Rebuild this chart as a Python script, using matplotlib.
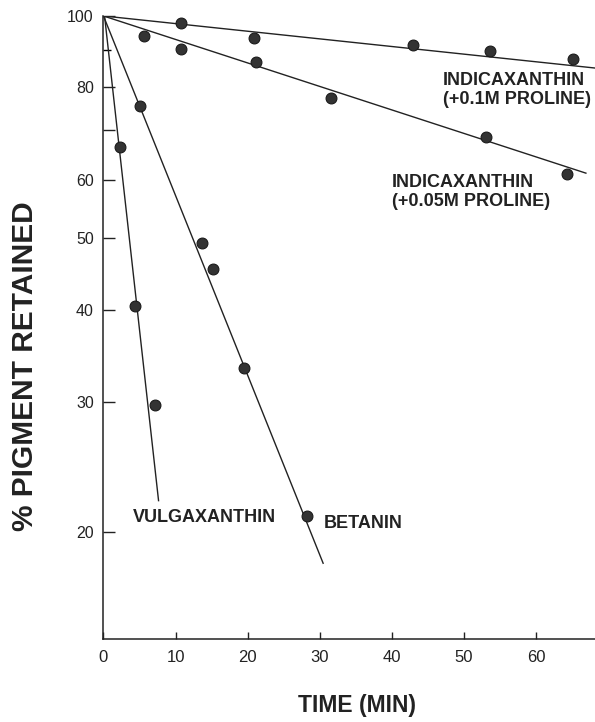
import matplotlib
matplotlib.use("Agg")
import matplotlib.pyplot as plt
from matplotlib.ticker import FixedLocator, FixedFormatter, NullFormatter

plt.rcParams['font.family'] = ['Liberation Sans', 'DejaVu Sans']

# measured points: time (min), % pigment retained
indica_01_t = [10.75, 20.9, 42.9, 53.6, 65.1]
indica_01_y = [97.7, 93.3, 91.3, 89.6, 87.4]

indica_005_t = [5.66, 10.75, 21.15, 31.55, 53.05, 64.25]
indica_005_y = [93.8, 90.2, 86.6, 77.5, 68.6, 61.0]

betanin_t = [5.1, 13.6, 15.15, 19.45, 28.2]
betanin_y = [75.5, 49.3, 45.4, 33.3, 21.0]

vulga_t = [2.3, 4.37, 7.14]
vulga_y = [66.5, 40.4, 29.7]

# fitted first-order lines (start, end)
indica_01_fit_t = [0, 68.2]
indica_01_fit_y = [100, 85.0]
indica_005_fit_t = [0, 67.0]
indica_005_fit_y = [100, 61.2]
betanin_fit_t = [0, 30.5]
betanin_fit_y = [100, 18.1]
vulga_fit_t = [0.15, 7.65]
vulga_fit_y = [100, 22.0]

y_ticks = [20, 30, 40, 50, 60, 70, 80, 100]
y_tick_labels = ['20', '30', '40', '50', '60', '', '80', '100']
x_ticks = [0, 10, 20, 30, 40, 50, 60]

ink = '#222222'
dot = '#333333'

fig = plt.figure(figsize=(5.95, 7.22), dpi=100)
ax = fig.add_axes([0.1739, 0.1150, 0.8261, 0.8629])

for t, y in [(indica_01_fit_t, indica_01_fit_y), (indica_005_fit_t, indica_005_fit_y),
             (betanin_fit_t, betanin_fit_y), (vulga_fit_t, vulga_fit_y)]:
    ax.plot(t, y, color=ink, lw=1.0, solid_capstyle='butt', clip_on=True)

for t, y in [(indica_01_t, indica_01_y), (indica_005_t, indica_005_y),
             (betanin_t, betanin_y), (vulga_t, vulga_y)]:
    ax.plot(t, y, 'o', color=dot, markersize=7.8, markeredgecolor='#1a1a1a',
            markeredgewidth=0.8, zorder=3)

ax.set_yscale('log')
ax.set_xlim(0, 68.17)
ax.set_ylim(14.32, 100)

ax.yaxis.set_major_locator(FixedLocator(y_ticks))
ax.yaxis.set_major_formatter(FixedFormatter(y_tick_labels))
ax.yaxis.set_minor_locator(FixedLocator([90]))
ax.yaxis.set_minor_formatter(NullFormatter())
ax.set_xticks(x_ticks)

ax.tick_params(axis='y', which='major', direction='in', length=8.5, width=1.0,
               labelsize=11.5, pad=7, colors=ink)
ax.tick_params(axis='y', which='minor', direction='in', length=5.5, width=1.0)
ax.tick_params(axis='x', which='major', direction='in', length=5, width=1.0,
               labelsize=12, pad=8, colors=ink)
ax.tick_params(axis='x', which='minor', bottom=False)

for side in ['top', 'right']:
    ax.spines[side].set_visible(False)
for side in ['left', 'bottom']:
    ax.spines[side].set_linewidth(1.1)
    ax.spines[side].set_color(ink)

ax.set_xlabel('TIME (MIN)', fontsize=16.5, fontweight='bold', color=ink, va='center')
ax.xaxis.set_label_coords(0.516, -0.1075)
ax.set_ylabel('% PIGMENT RETAINED', fontsize=21.5, fontweight='bold', color=ink, va='center')
ax.yaxis.set_label_coords(-0.16, 0.438)

label_kw = dict(fontsize=13, fontweight='bold', color=ink, ha='left', va='center',
                linespacing=1.15)
ax.text(47.05, 79.4, 'INDICAXANTHIN\n(+0.1M PROLINE)', **label_kw)
ax.text(40.0, 57.8, 'INDICAXANTHIN\n(+0.05M PROLINE)', **label_kw)
ax.text(4.05, 20.9, 'VULGAXANTHIN', **label_kw)
ax.text(30.5, 20.5, 'BETANIN', **label_kw)

fig.savefig('out.png', dpi=100, facecolor='white')
